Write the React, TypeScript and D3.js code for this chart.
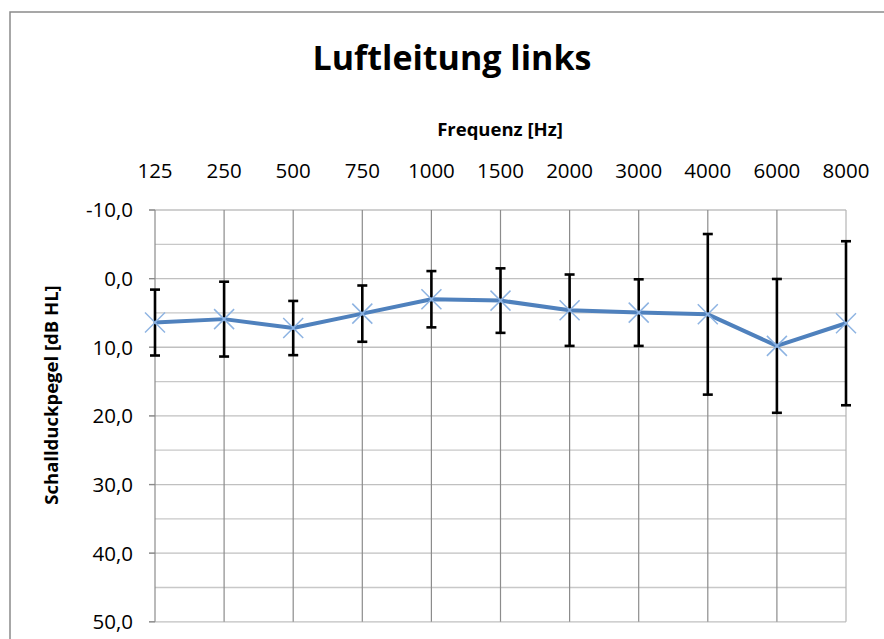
import React from "react";
import * as d3 from "d3";

const frequencies = ["125", "250", "500", "750", "1000", "1500", "2000", "3000", "4000", "6000", "8000"];
const meanLevels = [6.4, 5.9, 7.2, 5.1, 3.0, 3.2, 4.6, 4.95, 5.2, 9.8, 6.5];
const errorValues = [4.8, 5.45, 3.95, 4.1, 4.1, 4.7, 5.2, 4.85, 11.7, 9.75, 11.95];
const majorTicks = [-10, 0, 10, 20, 30, 40, 50];
const minorTicks = [-5, 5, 15, 25, 35, 45];

const titleText = "Luftleitung links";
const xTitle = "Frequenz [Hz]";
const yTitle = "Schallduckpegel [dB HL]";

const W = 884;
const H = 639;
const plot = { left: 155, right: 846, top: 210, bottom: 621.8 };
const FONT = "'Open Sans', 'Noto Sans', sans-serif";

export default function App() {
  const x = d3.scalePoint<string>().domain(frequencies).range([plot.left, plot.right]);
  const y = d3.scaleLinear().domain([-10, 50]).range([plot.top, plot.bottom]);
  const fmt = (v: number) => d3.format(".1f")(v).replace(".", ",").replace("−", "-");

  const pts = frequencies.map((f, i) => ({ f, v: meanLevels[i], e: errorValues[i] }));
  const line = d3
    .line<{ f: string; v: number }>()
    .x((d) => x(d.f) as number)
    .y((d) => y(d.v))
    .curve(d3.curveLinear);

  const m = 10; // marker half-size
  const cap = 5;

  return (
    <svg
      width={W}
      height={H}
      viewBox={`0 0 ${W} ${H}`}
      style={{ position: "absolute", left: 0, top: 0, background: "#fff" }}
    >
      <rect x={0} y={0} width={W} height={H} fill="#fff" />
      {/* outer chart border */}
      <rect x={10} y={12} width={W + 20} height={H + 20} fill="#fff" stroke="#8a8a8a" strokeWidth={1.5} />

      {/* title */}
      <text x={452} y={70} textAnchor="middle" fontFamily={FONT} fontWeight="bold" fontSize={34} fill="#000">
        {titleText}
      </text>

      {/* x axis title */}
      <text x={500} y={136} textAnchor="middle" fontFamily={FONT} fontWeight="bold" fontSize={18.5} fill="#000">
        {xTitle}
      </text>

      {/* x tick labels */}
      {frequencies.map((f) => (
        <text key={f} x={x(f) as number} y={178} textAnchor="middle" fontFamily={FONT} fontSize={20.5} fill="#000">
          {f}
        </text>
      ))}

      {/* minor horizontal gridlines */}
      {minorTicks.map((t) => (
        <line key={"mi" + t} x1={plot.left} x2={plot.right} y1={y(t)} y2={y(t)} stroke="#c8c8c8" strokeWidth={1.3} />
      ))}
      {/* major horizontal gridlines with ticks */}
      {majorTicks.map((t) => (
        <g key={"ma" + t}>
          <line x1={plot.left - 6} x2={plot.right} y1={y(t)} y2={y(t)} stroke="#c0c0c0" strokeWidth={1.3} />
          <line x1={plot.left - 6} x2={plot.left} y1={y(t)} y2={y(t)} stroke="#8a8a8a" strokeWidth={1.3} />
          <text
            x={133}
            y={y(t)}
            dy="0.36em"
            textAnchor="end"
            fontFamily={FONT}
            fontSize={20.5}
            fill="#000"
          >
            {fmt(t)}
          </text>
        </g>
      ))}

      {/* vertical gridlines */}
      {frequencies.map((f, i) => (
        <line
          key={"v" + f}
          x1={x(f) as number}
          x2={x(f) as number}
          y1={plot.top}
          y2={plot.bottom}
          stroke={i === frequencies.length - 1 ? "#b4b4b4" : "#8c8c8c"}
          strokeWidth={1.2}
        />
      ))}

      {/* y axis title */}
      <text
        transform={`translate(58, 395) rotate(-90)`}
        textAnchor="middle"
        fontFamily={FONT}
        fontWeight="bold"
        fontSize={18.5}
        fill="#000"
      >
        {yTitle}
      </text>

      {/* error bars */}
      {pts.map((d) => {
        const cx = x(d.f) as number;
        const y1 = y(d.v - d.e);
        const y2 = y(d.v + d.e);
        return (
          <g key={"e" + d.f} stroke="#000" strokeWidth={2.6}>
            <line x1={cx} x2={cx} y1={y1} y2={y2} />
            <line x1={cx - cap} x2={cx + cap} y1={y1} y2={y1} />
            <line x1={cx - cap} x2={cx + cap} y1={y2} y2={y2} />
          </g>
        );
      })}

      {/* series line */}
      <path d={line(pts) as string} fill="none" stroke="#4f81bd" strokeWidth={4} strokeLinejoin="round" />

      {/* x markers */}
      {pts.map((d) => {
        const cx = x(d.f) as number;
        const cy = y(d.v);
        return (
          <g key={"m" + d.f} stroke="#8db3e2" strokeWidth={1.5}>
            <line x1={cx - m} y1={cy - m} x2={cx + m} y2={cy + m} />
            <line x1={cx - m} y1={cy + m} x2={cx + m} y2={cy - m} />
          </g>
        );
      })}
    </svg>
  );
}
